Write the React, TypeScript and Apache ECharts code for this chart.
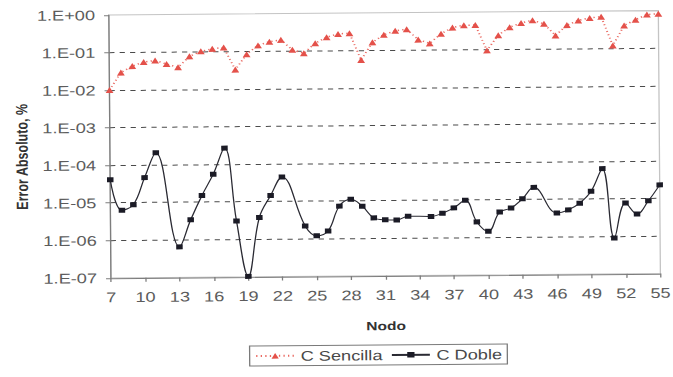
import React, { useEffect, useRef } from "react";
import * as echarts from "echarts";

// Nodes along the x axis
const nodes = [
  "7", "8", "9", "10", "11", "12", "13", "14", "15", "16", "17", "18", "19", "20",
  "21", "22", "23", "24", "25", "26", "27", "28", "29", "30", "31", "32", "33", "34",
  "35", "36", "37", "38", "39", "40", "41", "42", "43", "44", "45", "46", "47", "48",
  "49", "50", "51", "52", "53", "54", "55",
];

// Absolute error (%) with single precision
const cSencilla = [
  0.01, 0.029, 0.043, 0.055, 0.06, 0.048, 0.039, 0.076, 0.103, 0.119, 0.129, 0.033, 0.084, 0.144,
  0.18, 0.2, 0.108, 0.087, 0.16, 0.23, 0.28, 0.29, 0.056, 0.164, 0.26, 0.33, 0.36, 0.19,
  0.15, 0.27, 0.39, 0.45, 0.45, 0.095, 0.24, 0.39, 0.5, 0.59, 0.47, 0.23, 0.43, 0.57,
  0.66, 0.71, 0.12, 0.41, 0.58, 0.79, 0.83,
];

// Absolute error (%) with double precision (no value at nodes 12, 23, 34, 45)
const cDoble = [
  4.1e-5, 6.3e-6, 8.8e-6, 4.6e-5, 2.1e-4, null, 6.5e-7, 3.4e-6, 1.5e-5, 5.5e-5, 2.7e-4, 3.1e-6, 1.03e-7, 3.8e-6,
  1.45e-5, 4.5e-5, null, 2.2e-6, 1.2e-6, 1.6e-6, 7.3e-6, 1.1e-5, 7.2e-6, 3.5e-6, 3.1e-6, 3.05e-6, 3.8e-6, null,
  3.7e-6, 4.5e-6, 6.2e-6, 9.8e-6, 2.6e-6, 1.45e-6, 4.7e-6, 6.0e-6, 1.05e-5, 2.1e-5, null, 4.3e-6, 5.2e-6, 7.8e-6,
  1.6e-5, 6.4e-5, 9.1e-7, 7.7e-6, 3.9e-6, 8.7e-6, 2.3e-5,
];

// Decade labels of the log axis, from 1e-7 up to 1e0
const yTickLabels = ["1.E-07", "1.E-06", "1.E-05", "1.E-04", "1.E-03", "1.E-02", "1.E-01", "1.E+00"];

const FONT = "'Liberation Sans', Arial, sans-serif";

// The chart is laid out narrow and widened with a horizontal stretch,
// which gives the broad lettering of the printed figure.
const STRETCH = 1.3;
const PAGE_W = 673;
const PAGE_H = 377;
const sx = (px: number) => px / STRETCH;

export default function App() {
  const ref = useRef<HTMLDivElement>(null);

  useEffect(() => {
    const chart = echarts.init(ref.current!, null, { renderer: "svg" });
    chart.setOption({
      animation: false,
      backgroundColor: "#ffffff",
      textStyle: { fontFamily: FONT },
      grid: {
        left: sx(110),
        right: sx(12),
        top: 15.8,
        bottom: 98.2,
        show: true,
        borderColor: "#c4c4c4",
        borderWidth: 1,
        backgroundColor: "transparent",
      },
      legend: {
        left: sx(248),
        top: 348,
        data: ["C Sencilla", "C Doble"],
        itemWidth: sx(38),
        itemHeight: 7,
        itemGap: sx(8),
        padding: [3, 4, 3, 4],
        borderColor: "#7a7a7a",
        borderWidth: 1,
        textStyle: { fontFamily: FONT, fontSize: 14, color: "#484848" },
      },
      xAxis: {
        type: "category",
        data: nodes,
        boundaryGap: false,
        name: "Nodo",
        nameLocation: "middle",
        nameGap: 44,
        nameTextStyle: { fontFamily: FONT, fontSize: 12, fontWeight: "bold", color: "#333" },
        axisLine: { show: true, lineStyle: { color: "#7d7d7d", width: 1 } },
        axisTick: { show: true, interval: 2, length: 4, lineStyle: { color: "#7d7d7d" } },
        axisLabel: { interval: 2, margin: 12, fontSize: 14, color: "#5c5c5c", fontFamily: FONT },
        splitLine: { show: false },
      },
      yAxis: {
        type: "log",
        logBase: 10,
        min: 1e-7,
        max: 1,
        interval: 1,
        axisLine: { show: true, lineStyle: { color: "#7d7d7d", width: 1 } },
        axisTick: { show: true, length: sx(5), lineStyle: { color: "#7d7d7d" } },
        axisLabel: {
          margin: sx(14),
          fontSize: 14,
          color: "#5c5c5c",
          fontFamily: FONT,
          formatter: (v: number) => {
            const idx = Math.round(Math.log10(v)) + 7;
            return yTickLabels[idx] ?? "";
          },
        },
        splitLine: {
          show: true,
          showMinLine: false,
          showMaxLine: false,
          lineStyle: { color: "#4a4a4a", type: [4, 4], width: 1 },
        },
      },
      graphic: [
        {
          type: "text",
          x: sx(22),
          y: 157,
          rotation: Math.PI / 2,
          style: {
            text: "Error Absoluto, %",
            fontFamily: FONT,
            fontSize: 12.5,
            fontWeight: "bold",
            fill: "#333",
            align: "center",
            verticalAlign: "middle",
          },
        },
      ],
      series: [
        {
          name: "C Sencilla",
          type: "line",
          data: cSencilla,
          showSymbol: true,
          showAllSymbol: true,
          symbol: "triangle",
          symbolSize: 6,
          itemStyle: { color: "#e4514a" },
          lineStyle: { color: "#ea6a62", width: 1.5, type: [1, 2.5] },
        },
        {
          name: "C Doble",
          type: "line",
          data: cDoble,
          showSymbol: true,
          showAllSymbol: true,
          connectNulls: true,
          smooth: 0.4,
          symbol: "rect",
          symbolSize: 5,
          itemStyle: { color: "#1b1b26" },
          lineStyle: { color: "#2a2a33", width: 1 },
        },
      ],
    });
    return () => chart.dispose();
  }, []);

  return (
    <div
      style={{
        position: "fixed",
        left: 0,
        top: 0,
        width: PAGE_W,
        height: PAGE_H,
        background: "#fff",
        overflow: "hidden",
      }}
    >
      <div
        ref={ref}
        style={{
          width: PAGE_W / STRETCH,
          height: PAGE_H,
          transformOrigin: "0px 147px",
          transform: `rotate(-0.45deg) scaleX(${STRETCH})`,
        }}
      />
    </div>
  );
}
